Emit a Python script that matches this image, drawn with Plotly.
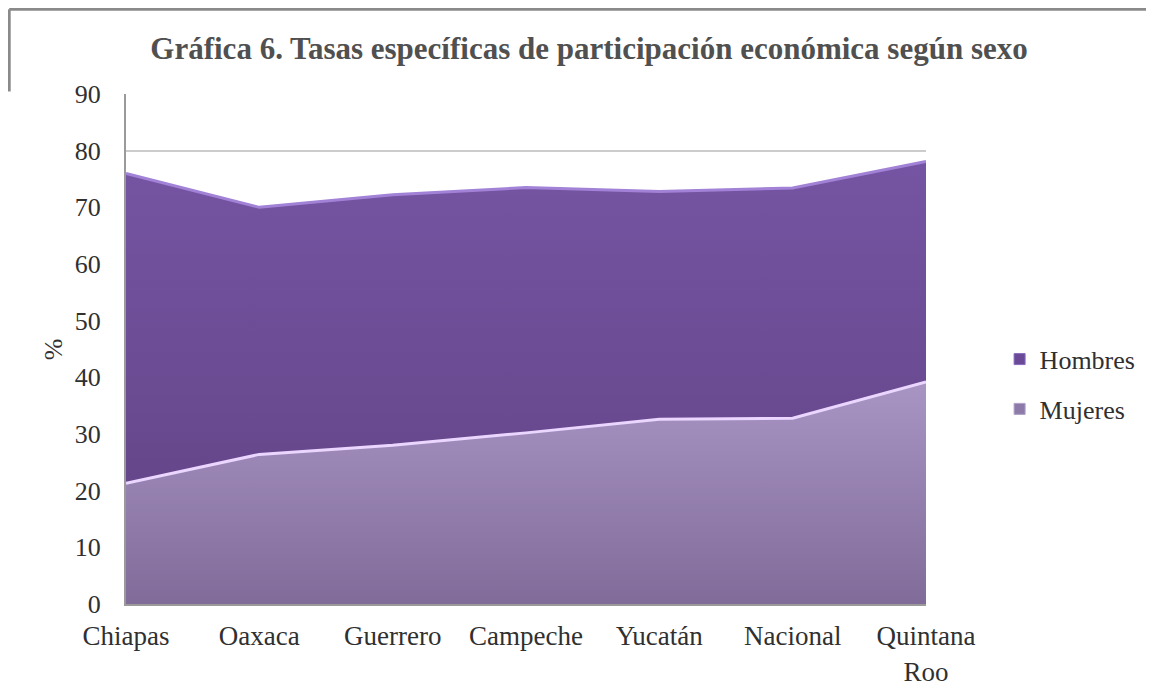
import plotly.graph_objects as go

categorias = ["Chiapas", "Oaxaca", "Guerrero", "Campeche", "Yucatán", "Nacional", "Quintana<br>Roo"]
hombres = [76.0, 70.0, 72.2, 73.5, 72.8, 73.4, 78.1]
mujeres = [21.3, 26.4, 28.0, 30.2, 32.6, 32.8, 39.2]
y_ticks = [0, 10, 20, 30, 40, 50, 60, 70, 80, 90]
titulo = "Gráfica 6. Tasas específicas de participación económica según sexo"

SERIF = "Liberation Serif, Tinos, Times New Roman, DejaVu Serif, serif"
TXT = "#303030"

fig = go.Figure()
fig.add_trace(go.Scatter(
    x=categorias, y=hombres, name="Hombres", mode="lines",
    fill="tozeroy",
    fillgradient=dict(type="vertical", start=20, stop=78,
                      colorscale=[[0, "#66468a"], [1, "#7555a3"]]),
    line=dict(color="#a282d6", width=3),
    showlegend=False,
))
fig.add_trace(go.Scatter(
    x=categorias, y=mujeres, name="Mujeres", mode="lines",
    fill="tozeroy",
    fillgradient=dict(type="vertical", start=0, stop=39,
                      colorscale=[[0, "#806b99"], [1, "#a995c4"]]),
    line=dict(color="#ead6ff", width=3),
    showlegend=False,
))
# legend entries (square swatches as in the reference)
fig.add_trace(go.Scatter(
    x=[None], y=[None], name="Hombres", mode="markers",
    marker=dict(symbol="square", size=11, color="#6a4a96",
                line=dict(color="#8a6ac0", width=1)),
    legendgroup="h",
))
fig.add_trace(go.Scatter(
    x=[None], y=[None], name="Mujeres", mode="markers",
    marker=dict(symbol="square", size=11, color="#8d7aa8",
                line=dict(color="#b0a0c8", width=1)),
    legendgroup="m",
))

fig.update_layout(
    width=1154, height=696,
    margin=dict(l=118, r=236, t=86, b=100),
    paper_bgcolor="white", plot_bgcolor="white",
    title=dict(text="<b>" + titulo + "</b>", x=0.5035, xanchor="center", y=0.9425, yanchor="middle",
               font=dict(family=SERIF, size=31, color="#505050")),
    font=dict(family=SERIF, color=TXT),
    showlegend=True,
    legend=dict(x=1.092, y=0.431, xanchor="left", yanchor="middle",
                font=dict(family=SERIF, size=26, color=TXT),
                tracegroupgap=13, traceorder="grouped",
                bgcolor="rgba(0,0,0,0)"),
    xaxis=dict(range=[0, 6], showgrid=False, showline=True, linecolor="#9a9a9a",
               linewidth=2, ticks="", tickfont=dict(family=SERIF, size=27, color=TXT),
               ticklabelstandoff=7, zeroline=False),
    yaxis=dict(range=[0, 90], tickvals=y_ticks, showgrid=True, gridcolor="#cccccc",
               gridwidth=2, showline=True, linecolor="#9a9a9a", linewidth=2,
               ticks="", tickfont=dict(family=SERIF, size=26, color=TXT),
               ticklabelstandoff=18, zeroline=False),
    annotations=[
        dict(text="%", xref="paper", yref="paper", x=-0.091, y=0.5,
             xanchor="center", yanchor="middle", showarrow=False, textangle=-90,
             font=dict(family=SERIF, size=26, color=TXT)),
    ],
    shapes=[
        dict(type="line", xref="paper", yref="paper", x0=-0.146, x1=1.3,
             y0=1.166, y1=1.166, line=dict(color="#8a8a8a", width=3)),
        dict(type="line", xref="paper", yref="paper", x0=-0.146, x1=-0.146,
             y0=1.166, y1=1.005, line=dict(color="#8a8a8a", width=3)),
    ],
)

fig.write_html("out.html")
